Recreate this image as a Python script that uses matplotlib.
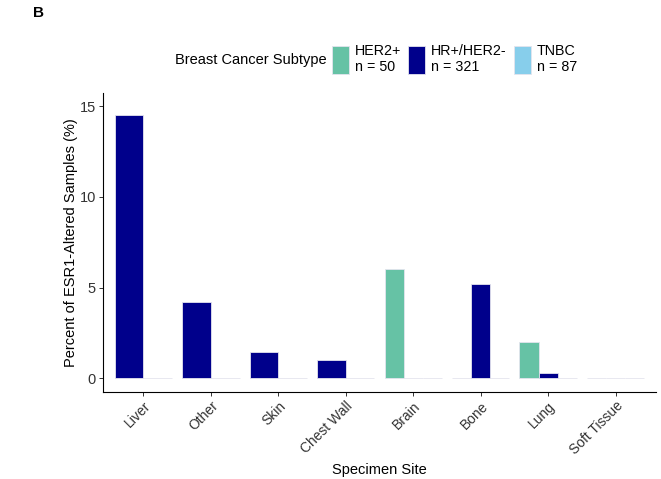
import matplotlib.pyplot as plt
import numpy as np
from matplotlib.patches import Patch

plt.rcParams['font.family'] = ['Liberation Sans', 'DejaVu Sans']

# ESR1-altered samples (%) by specimen site; nan = subtype not sampled at that site
sites = ['Liver', 'Other', 'Skin', 'Chest Wall', 'Brain', 'Bone', 'Lung', 'Soft Tissue']
her2 = [np.nan, np.nan, np.nan, np.nan, 6.0, 0.0, 2.0, 0.0]
hr_her2neg = [14.5, 4.2, 1.45, 1.0, 0.0, 5.2, 0.3, 0.0]
tnbc = [0.0, 0.0, 0.0, 0.0, 0.0, 0.0, 0.0, 0.0]

subtypes = ['HER2+', 'HR+/HER2-', 'TNBC']
counts = [50, 321, 87]
colors = ['#66C2A5', '#00008B', '#87CEEB']
series = [her2, hr_her2neg, tnbc]

fig = plt.figure(figsize=(6.61, 4.79), dpi=100)
ax = fig.add_axes([0.1558, 0.1816, 0.8366, 0.6242])

# dodge bars within each site over the subtypes present there
total_w = 0.85
for i, site in enumerate(sites):
    present = [k for k in range(3) if not np.isnan(series[k][i])]
    w = total_w / len(present)
    for j, k in enumerate(present):
        x = i - total_w / 2 + w * (j + 0.5)
        ax.bar(x, series[k][i], width=w, color=colors[k],
               edgecolor='#e4e4ee', linewidth=0.6)

ax.set_xlim(-0.6, len(sites) - 0.4)
ax.set_ylim(-0.75, 15.72)
ax.set_yticks([0, 5, 10, 15])
ax.set_xticks(range(len(sites)))
ax.set_xticklabels(sites, rotation=45, ha='right', va='top',
                   rotation_mode='anchor', fontsize=10, color='#333333')
ax.tick_params(axis='y', labelsize=10.5, labelcolor='#333333', pad=2)
ax.tick_params(axis='x', pad=2)
ax.tick_params(length=3, width=0.7, color='#333333')
for s in ['top', 'right']:
    ax.spines[s].set_visible(False)
for s in ['left', 'bottom']:
    ax.spines[s].set_linewidth(0.8)

ax.set_xlabel('Specimen Site', fontsize=10.5, va='center')
ax.xaxis.set_label_coords(0.5, -0.261)
ax.set_ylabel('Percent of ESR1-Altered Samples (%)', fontsize=10.5, labelpad=1)

handles = [Patch(facecolor=c, edgecolor='#e4e4ee', linewidth=0.6) for c in colors]
labels = ['%s\nn = %d' % (s, n) for s, n in zip(subtypes, counts)]
fig.legend(handles, labels, loc='center left', bbox_to_anchor=(0.502, 0.877),
           ncol=3, frameon=False, fontsize=10.3, handlelength=1.2,
           handleheight=2.7, handletextpad=0.4, columnspacing=0.5,
           borderpad=0, borderaxespad=0, labelspacing=0)
fig.text(0.494, 0.874, 'Breast Cancer Subtype', fontsize=10.5, ha='right', va='center')

fig.text(0.05, 0.988, 'B', fontsize=11, fontweight='bold', ha='left', va='top')

fig.savefig('out.png', dpi=100)
